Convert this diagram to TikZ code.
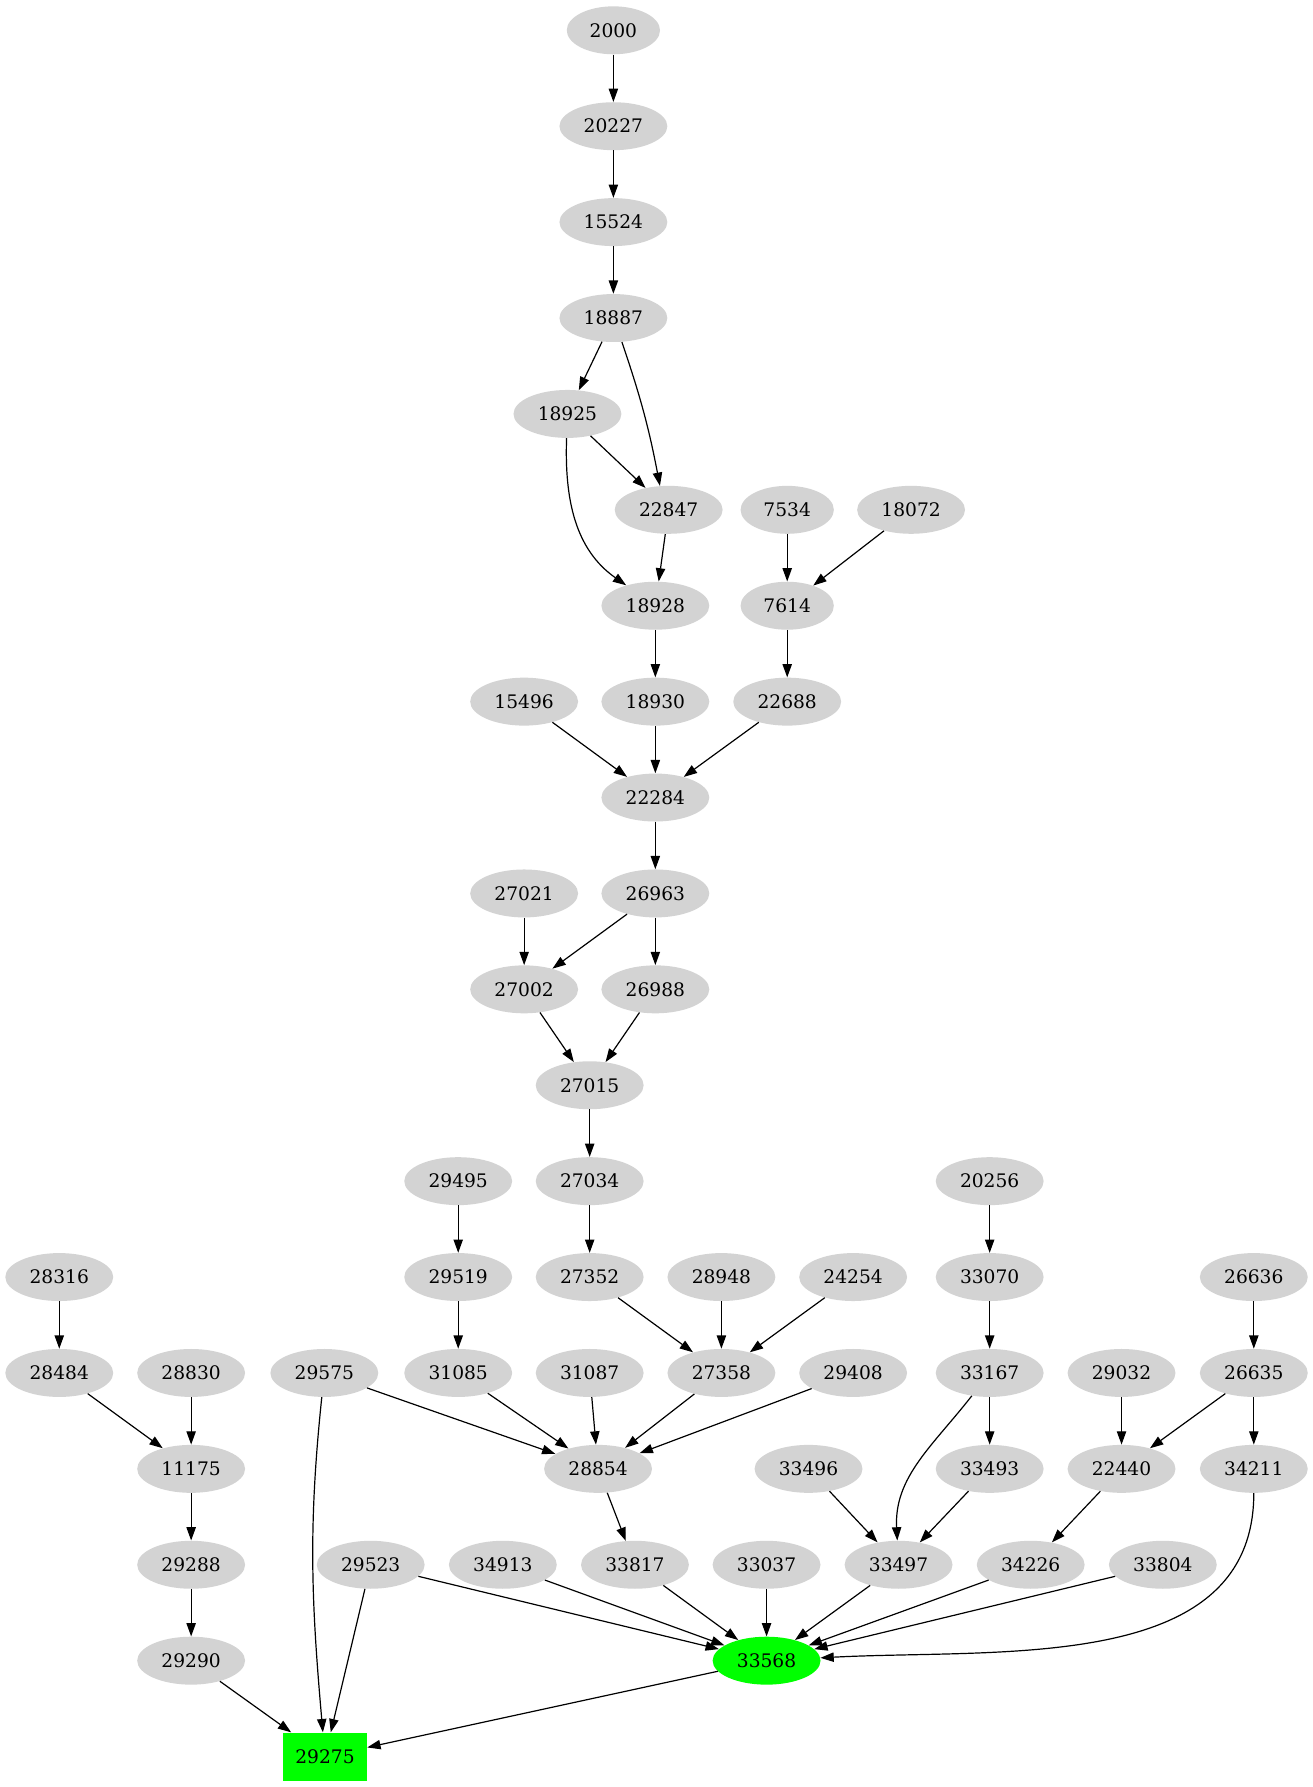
\documentclass[tikz,border=0pt]{standalone}
\usepackage{fontspec}
\setmainfont{DejaVu Serif}
\usetikzlibrary{shapes.geometric,arrows.meta}
\definecolor{nodegray}{HTML}{D3D3D3}
\definecolor{hitgreen}{HTML}{00FF00}
\begin{document}
\begin{tikzpicture}[
    x=1pt, y=-1pt,
    font=\fontsize{14pt}{16pt}\selectfont,
    var/.style={ellipse, fill=nodegray, minimum width=81pt, minimum height=36pt, inner sep=0pt},
    short/.style={var, minimum width=70pt},
    goal/.style={var, fill=hitgreen},
    root/.style={rectangle, fill=hitgreen, minimum width=63pt, minimum height=36pt, inner sep=0pt},
    link/.style={-{Triangle[length=10pt,width=7pt]}, line width=0.9pt}
]
    \useasboundingbox (0,0) rectangle (985.7,1341.6);

    \node[short] (n2000) at (460.5,22.75) {2000};
    \node[var] (n20227) at (460.5,94.75) {20227};
    \node[var] (n15524) at (460.5,166.75) {15524};
    \node[var] (n18887) at (460.5,238.75) {18887};
    \node[var] (n18925) at (426,310.75) {18925};
    \node[var] (n22847) at (502,382.75) {22847};
    \node[short] (n7534) at (591,382.75) {7534};
    \node[var] (n18072) at (684,382.75) {18072};
    \node[var] (n18928) at (492,454.75) {18928};
    \node[short] (n7614) at (591,454.75) {7614};
    \node[var] (n15496) at (393.5,526.75) {15496};
    \node[var] (n18930) at (492,526.75) {18930};
    \node[var] (n22688) at (591,526.75) {22688};
    \node[var] (n22284) at (492,598.75) {22284};
    \node[var] (n27021) at (393.5,670.75) {27021};
    \node[var] (n26963) at (492,670.75) {26963};
    \node[var] (n27002) at (393.5,742.75) {27002};
    \node[var] (n26988) at (492,742.75) {26988};
    \node[var] (n27015) at (442.7,814.75) {27015};
    \node[var] (n29495) at (344,886.75) {29495};
    \node[var] (n27034) at (442.7,886.75) {27034};
    \node[var] (n20256) at (743,886.75) {20256};

    \node[var] (n28316) at (44.5,958.75) {28316};
    \node[var] (n29519) at (344,958.75) {29519};
    \node[var] (n27352) at (442.7,958.75) {27352};
    \node[var] (n28948) at (541.6,958.75) {28948};
    \node[var] (n24254) at (640.5,958.75) {24254};
    \node[var] (n33070) at (743,958.75) {33070};
    \node[var] (n26636) at (941.3,958.75) {26636};

    \node[var] (n28484) at (44.5,1030.75) {28484};
    \node[var] (n28830) at (143.5,1030.75) {28830};
    \node[var] (n29575) at (243.5,1030.75) {29575};
    \node[var] (n31085) at (344,1030.75) {31085};
    \node[var] (n31087) at (442.7,1030.75) {31087};
    \node[var] (n27358) at (541.6,1030.75) {27358};
    \node[var] (n29408) at (640.5,1030.75) {29408};
    \node[var] (n33167) at (743,1030.75) {33167};
    \node[var] (n29032) at (842,1030.75) {29032};
    \node[var] (n26635) at (941.3,1030.75) {26635};

    \node[var] (n11175) at (143.5,1102.75) {11175};
    \node[var] (n28854) at (449,1102.75) {28854};
    \node[var] (n33496) at (607,1102.75) {33496};
    \node[var] (n33493) at (743,1102.75) {33493};
    \node[var] (n22440) at (842,1102.75) {22440};
    \node[var] (n34211) at (941.3,1102.75) {34211};

    \node[var] (n29288) at (143.5,1174.75) {29288};
    \node[var] (n29523) at (278.3,1174.75) {29523};
    \node[var] (n34913) at (377.5,1174.75) {34913};
    \node[var] (n33817) at (476.7,1174.75) {33817};
    \node[var] (n33037) at (575.5,1174.75) {33037};
    \node[var] (n33497) at (674.6,1174.75) {33497};
    \node[var] (n34226) at (773.8,1174.75) {34226};
    \node[var] (n33804) at (873,1174.75) {33804};

    \node[var] (n29290) at (143.5,1246.75) {29290};
    \node[goal] (n33568) at (575.5,1246.75) {33568};
    \node[root] (n29275) at (244,1318.75) {29275};

    % upper chain
    \draw[link] (n2000) -- (n20227);
    \draw[link] (n20227) -- (n15524);
    \draw[link] (n15524) -- (n18887);
    \draw[link] (n18887) -- (n18925);
    \draw[link] (n18887) to[bend left=4] (n22847.110);
    \draw[link] (n18925) -- (n22847);
    \draw[link] (n18925) to[out=-92,in=145] (n18928);
    \draw[link] (n22847) -- (n18928);
    \draw[link] (n7534) -- (n7614);
    \draw[link] (n18072) -- (n7614);
    \draw[link] (n18928) -- (n18930);
    \draw[link] (n7614) -- (n22688);
    \draw[link] (n15496) -- (n22284);
    \draw[link] (n18930) -- (n22284);
    \draw[link] (n22688) -- (n22284);
    \draw[link] (n22284) -- (n26963);
    \draw[link] (n27021) -- (n27002);
    \draw[link] (n26963) -- (n27002);
    \draw[link] (n26963) -- (n26988);
    \draw[link] (n27002) -- (n27015);
    \draw[link] (n26988) -- (n27015);
    \draw[link] (n27015) -- (n27034);

    % middle
    \draw[link] (n29495) -- (n29519);
    \draw[link] (n27034) -- (n27352);
    \draw[link] (n20256) -- (n33070);
    \draw[link] (n28316) -- (n28484);
    \draw[link] (n29519) -- (n31085);
    \draw[link] (n27352) -- (n27358);
    \draw[link] (n28948) -- (n27358);
    \draw[link] (n24254) -- (n27358);
    \draw[link] (n33070) -- (n33167);
    \draw[link] (n26636) -- (n26635);
    \draw[link] (n28484) -- (n11175);
    \draw[link] (n28830) -- (n11175);
    \draw[link] (n29575) -- (n28854);
    \draw[link] (n31085) -- (n28854);
    \draw[link] (n31087) -- (n28854);
    \draw[link] (n27358) -- (n28854);
    \draw[link] (n29408) -- (n28854);
    \draw[link] (n33167) -- (n33493);
    \draw[link] (n33167) to[out=-128,in=93] (n33497);
    \draw[link] (n29032) -- (n22440);
    \draw[link] (n26635) -- (n22440);
    \draw[link] (n26635) -- (n34211);

    % lower
    \draw[link] (n11175) -- (n29288);
    \draw[link] (n28854) -- (n33817);
    \draw[link] (n33496) -- (n33497);
    \draw[link] (n33493) -- (n33497);
    \draw[link] (n22440) -- (n34226);
    \draw[link] (n29288) -- (n29290);
    \draw[link] (n29523) -- (n33568);
    \draw[link] (n34913) -- (n33568);
    \draw[link] (n33817) -- (n33568);
    \draw[link] (n33037) -- (n33568);
    \draw[link] (n33497) -- (n33568);
    \draw[link] (n34226) -- (n33568);
    \draw[link] (n33804) -- (n33568);
    \draw[link] (n34211) to[out=-90,in=3] (n33568);
    \draw[link] (n29290) -- (n29275);
    \draw[link] (n29575) to[out=-96,in=95] (n29275);
    \draw[link] (n29523) -- (n29275);
    \draw[link] (n33568) -- (n29275);
\end{tikzpicture}
\end{document}
